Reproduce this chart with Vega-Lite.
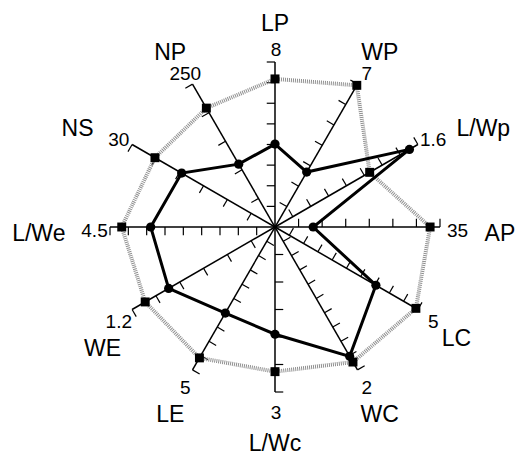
{
  "$schema": "https://vega.github.io/schema/vega-lite/v6.json",
  "width": 516,
  "height": 458,
  "autosize": "none",
  "padding": 0,
  "background": "white",
  "config": {"view": {"stroke": null}, "text": {"font": "Liberation Sans", "color": "black"}},
  "datasets": {
    "axes": [
      {"axis": "LP", "idx": 0, "max": 8, "ticks": [1, 2, 3, 4, 5, 6, 7, 8]},
      {"axis": "WP", "idx": 1, "max": 7, "ticks": [1, 2, 3, 4, 5, 6, 7]},
      {"axis": "L/Wp", "idx": 2, "max": 1.6, "ticks": [0.2, 0.4, 0.6, 0.8, 1.0, 1.2, 1.4, 1.6]},
      {"axis": "AP", "idx": 3, "max": 35, "ticks": [5, 10, 15, 20, 25, 30, 35]},
      {"axis": "LC", "idx": 4, "max": 5, "ticks": [0.5, 1, 1.5, 2, 2.5, 3, 3.5, 4, 4.5, 5]},
      {"axis": "WC", "idx": 5, "max": 2, "ticks": [0.2, 0.4, 0.6, 0.8, 1.0, 1.2, 1.4, 1.6, 1.8, 2]},
      {"axis": "L/Wc", "idx": 6, "max": 3, "ticks": [0.5, 1, 1.5, 2, 2.5, 3]},
      {"axis": "LE", "idx": 7, "max": 5, "ticks": [0.5, 1, 1.5, 2, 2.5, 3, 3.5, 4, 4.5, 5]},
      {"axis": "WE", "idx": 8, "max": 1.2, "ticks": [0.2, 0.4, 0.6, 0.8, 1.0, 1.2]},
      {"axis": "L/We", "idx": 9, "max": 4.5, "ticks": [0.5, 1, 1.5, 2, 2.5, 3, 3.5, 4, 4.5]},
      {"axis": "NS", "idx": 10, "max": 30, "ticks": [5, 10, 15, 20, 25, 30]},
      {"axis": "NP", "idx": 11, "max": 250, "ticks": [50, 100, 150, 200, 250]}
    ],
    "values": [
      {"axis": "LP", "series": "A", "value": 7.18},
      {"axis": "WP", "series": "A", "value": 6.94},
      {"axis": "L/Wp", "series": "A", "value": 1.06},
      {"axis": "AP", "series": "A", "value": 32.9},
      {"axis": "LC", "series": "A", "value": 4.93},
      {"axis": "WC", "series": "A", "value": 1.89},
      {"axis": "L/Wc", "series": "A", "value": 2.63},
      {"axis": "LE", "series": "A", "value": 4.58},
      {"axis": "WE", "series": "A", "value": 1.09},
      {"axis": "L/We", "series": "A", "value": 4.18},
      {"axis": "NS", "series": "A", "value": 25.2},
      {"axis": "NP", "series": "A", "value": 208},
      {"axis": "LP", "series": "B", "value": 4.02},
      {"axis": "WP", "series": "B", "value": 2.69},
      {"axis": "L/Wp", "series": "B", "value": 1.505},
      {"axis": "AP", "series": "B", "value": 8.1},
      {"axis": "LC", "series": "B", "value": 3.53},
      {"axis": "WC", "series": "B", "value": 1.81},
      {"axis": "L/Wc", "series": "B", "value": 1.95},
      {"axis": "LE", "series": "B", "value": 3.01},
      {"axis": "WE", "series": "B", "value": 0.893},
      {"axis": "L/We", "series": "B", "value": 3.39},
      {"axis": "NS", "series": "B", "value": 19.6},
      {"axis": "NP", "series": "B", "value": 110}
    ]
  },
  "encoding": {
    "x": {"field": "x", "type": "quantitative", "scale": {"domain": [-1.66667, 1.46061], "nice": false, "zero": false}, "axis": null},
    "y": {"field": "y", "type": "quantitative", "scale": {"domain": [-1.4, 1.37576], "nice": false, "zero": false}, "axis": null}
  },
  "layer": [
    {
      "data": {"name": "axes"},
      "transform": [
        {"calculate": "datum.idx * PI / 6", "as": "a"},
        {"calculate": "0", "as": "x"},
        {"calculate": "0", "as": "y"},
        {"calculate": "sin(datum.a)", "as": "x2"},
        {"calculate": "cos(datum.a)", "as": "y2"}
      ],
      "mark": {"type": "rule", "color": "black", "strokeWidth": 1.5},
      "encoding": {"x2": {"field": "x2"}, "y2": {"field": "y2"}}
    },
    {
      "data": {"name": "axes"},
      "transform": [
        {"flatten": ["ticks"], "as": ["t"]},
        {"calculate": "datum.idx * PI / 6", "as": "a"},
        {"calculate": "datum.t / datum.max * sin(datum.a)", "as": "x"},
        {"calculate": "datum.t / datum.max * cos(datum.a)", "as": "y"},
        {"calculate": "datum.x - 0.05 * cos(datum.a)", "as": "x2"},
        {"calculate": "datum.y + 0.05 * sin(datum.a)", "as": "y2"}
      ],
      "mark": {"type": "rule", "color": "black", "strokeWidth": 1.2},
      "encoding": {"x2": {"field": "x2"}, "y2": {"field": "y2"}}
    },
    {
      "data": {"name": "values"},
      "transform": [
        {"lookup": "axis", "from": {"data": {"name": "axes"}, "key": "axis", "fields": ["idx", "max"]}},
        {"calculate": "datum.idx * PI / 6", "as": "a"},
        {"calculate": "datum.value / datum.max * sin(datum.a)", "as": "x"},
        {"calculate": "datum.value / datum.max * cos(datum.a)", "as": "y"}
      ],
      "layer": [
        {
          "transform": [{"filter": "datum.series === 'A'"}],
          "mark": {"type": "line", "interpolate": "linear-closed", "color": "#909090", "strokeWidth": 4, "strokeDash": [1, 1]},
          "encoding": {"order": {"field": "idx", "type": "quantitative"}}
        },
        {
          "transform": [{"filter": "datum.series === 'B'"}],
          "mark": {"type": "line", "interpolate": "linear-closed", "color": "black", "strokeWidth": 3},
          "encoding": {"order": {"field": "idx", "type": "quantitative"}}
        },
        {
          "transform": [{"filter": "datum.series === 'A'"}],
          "mark": {"type": "point", "shape": "square", "filled": true, "color": "black", "size": 80, "opacity": 1}
        },
        {
          "transform": [{"filter": "datum.series === 'B'"}],
          "mark": {"type": "point", "shape": "circle", "filled": true, "color": "black", "size": 85, "opacity": 1}
        }
      ]
    },
    {
      "data": {"name": "axes"},
      "transform": [
        {"calculate": "datum.idx * PI / 6", "as": "a"},
        {"calculate": "1.1 * sin(datum.a)", "as": "x"},
        {"calculate": "1.1 * cos(datum.a)", "as": "y"}
      ],
      "mark": {"type": "text", "fontSize": 19, "align": "center", "baseline": "middle", "dx": 1, "dy": 4},
      "encoding": {"text": {"field": "max", "type": "nominal"}}
    },
    {
      "data": {"name": "axes"},
      "transform": [
        {"calculate": "datum.idx * PI / 6", "as": "a"},
        {"calculate": "1.27 * sin(datum.a)", "as": "x"},
        {"calculate": "1.27 * cos(datum.a)", "as": "y"},
        {"calculate": "sin(datum.a) > 0.8 && cos(datum.a) > -0.1 ? 'left' : (sin(datum.a) < -0.8 && cos(datum.a) > -0.1 ? 'right' : (sin(datum.a) < -0.8 ? 'lowleft' : 'center'))", "as": "al"}
      ],
      "layer": [
        {
          "transform": [{"filter": "datum.al === 'left'"}],
          "mark": {"type": "text", "fontSize": 23, "align": "left", "baseline": "middle", "dy": 7},
          "encoding": {"text": {"field": "axis", "type": "nominal"}}
        },
        {
          "transform": [{"filter": "datum.al === 'right'"}],
          "mark": {"type": "text", "fontSize": 23, "align": "right", "baseline": "middle", "dy": 7},
          "encoding": {"text": {"field": "axis", "type": "nominal"}}
        },
        {
          "transform": [{"filter": "datum.al === 'center'"}],
          "mark": {"type": "text", "fontSize": 23, "align": "center", "baseline": "middle", "dy": 7},
          "encoding": {"text": {"field": "axis", "type": "nominal"}}
        },
        {
          "transform": [{"filter": "datum.al === 'lowleft'"}],
          "mark": {"type": "text", "fontSize": 23, "align": "center", "baseline": "middle", "dx": 9, "dy": 17},
          "encoding": {"text": {"field": "axis", "type": "nominal"}}
        }
      ]
    }
  ]
}
